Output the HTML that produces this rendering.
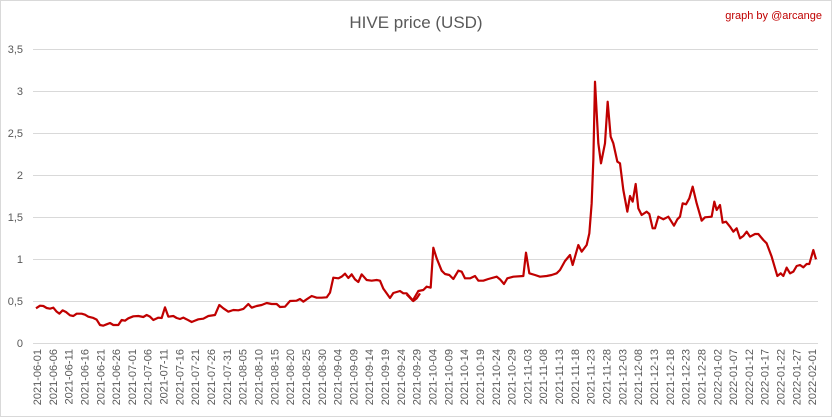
<!DOCTYPE html><html><head><style>body{margin:0;background:#fff}svg{display:block;font-family:"Liberation Sans",sans-serif}</style></head><body>
<svg width="832" height="417" viewBox="0 0 832 417" xmlns="http://www.w3.org/2000/svg">
<rect x="0.5" y="0.5" width="831" height="416" fill="#fff" stroke="#d9d9d9"/>
<text x="416" y="28" text-anchor="middle" font-size="17" fill="#595959">HIVE price (USD)</text>
<text x="822" y="19" text-anchor="end" font-size="11" fill="#c00000">graph by @arcange</text>
<g stroke="#d9d9d9" stroke-width="1">
<line x1="33" x2="818" y1="49.5" y2="49.5"/><line x1="33" x2="818" y1="91.5" y2="91.5"/><line x1="33" x2="818" y1="133.5" y2="133.5"/><line x1="33" x2="818" y1="175.5" y2="175.5"/><line x1="33" x2="818" y1="217.5" y2="217.5"/><line x1="33" x2="818" y1="259.5" y2="259.5"/><line x1="33" x2="818" y1="301.5" y2="301.5"/><line x1="33" x2="818" y1="343.5" y2="343.5"/>
</g>
<g font-size="11" fill="#595959" text-anchor="end">
<text x="23" y="53">3,5</text><text x="23" y="95">3</text><text x="23" y="137">2,5</text><text x="23" y="179">2</text><text x="23" y="221">1,5</text><text x="23" y="263">1</text><text x="23" y="305">0,5</text><text x="23" y="347">0</text>
</g>
<g fill="none" stroke="#c00000" stroke-width="2.2" stroke-linejoin="round">
<polyline vector-effect="non-scaling-stroke" transform="translate(0,230) scale(0.33333)" points="108,235 120,227 130,228 140,234 150,236 160,233 170,245 178,251 188,241 198,246 210,256 220,258 230,251 245,251 255,254 265,260 280,264 290,269 300,285 310,287 320,283 330,279 340,285 355,285 365,270 375,272 385,265 400,259 415,258 430,261 440,255 450,260 460,270 475,263 485,264 495,232 505,260 520,258 530,264 540,267 550,263 560,268 575,276 585,272 595,268 610,266 625,258 645,255 658,225 670,235 685,245 700,240 715,241 730,237 745,222 755,233 770,228 785,225 800,219 815,222 830,222 840,231 855,230 870,213 890,212 900,207 910,215 920,208 935,198 950,203 965,203 980,202 990,188 1000,143 1015,145 1025,140 1035,131 1045,144 1055,133 1065,148 1075,156 1085,133 1100,150 1115,152 1130,150 1140,152 1150,176 1170,204 1180,189 1200,183 1210,190 1220,190 1240,213 1250,205 1260,190"/>
<polyline vector-effect="non-scaling-stroke" transform="translate(400,60) scale(0.33333)" points="20,703 38,722 55,693 70,690 80,680 92,683 100,563 110,595 125,632 135,642 148,645 160,657 175,632 185,635 195,655 210,655 225,648 235,662 250,662 265,657 290,650 300,658 312,672 322,655 340,650 370,648 378,578 388,640 405,645 420,650 440,648 455,645 470,640 480,630 495,603 510,585 518,615 535,555 545,575 560,555 568,520 575,430 580,300 585,65 595,250 603,310 615,250 623,125 632,230 640,250 652,305 660,310 670,390 682,455 690,408 698,425 707,372 715,445 725,465 740,455 748,462 758,505 765,505 775,470 790,478 805,470 822,497 832,478 840,470 848,430 858,433 868,415 878,380 890,430 905,482 915,472 935,470 943,425 950,450 960,435 968,488 978,485 990,500 1000,515 1010,505 1020,535 1030,528 1040,515 1050,530 1065,522 1075,522 1090,540 1100,550 1115,590 1132,648 1142,640 1150,648 1160,623 1170,640 1180,635 1190,618 1200,615 1210,622 1220,612 1228,612 1240,570 1248,598"/>
</g>
<g font-size="11" fill="#595959" text-anchor="end">
<text transform="translate(41,349) rotate(-90)">2021-06-01</text>
<text transform="translate(56.8,349) rotate(-90)">2021-06-06</text>
<text transform="translate(72.6,349) rotate(-90)">2021-06-11</text>
<text transform="translate(88.5,349) rotate(-90)">2021-06-16</text>
<text transform="translate(104.3,349) rotate(-90)">2021-06-21</text>
<text transform="translate(120.1,349) rotate(-90)">2021-06-26</text>
<text transform="translate(135.9,349) rotate(-90)">2021-07-01</text>
<text transform="translate(151.7,349) rotate(-90)">2021-07-06</text>
<text transform="translate(167.6,349) rotate(-90)">2021-07-11</text>
<text transform="translate(183.4,349) rotate(-90)">2021-07-16</text>
<text transform="translate(199.2,349) rotate(-90)">2021-07-21</text>
<text transform="translate(215,349) rotate(-90)">2021-07-26</text>
<text transform="translate(230.8,349) rotate(-90)">2021-07-31</text>
<text transform="translate(246.7,349) rotate(-90)">2021-08-05</text>
<text transform="translate(262.5,349) rotate(-90)">2021-08-10</text>
<text transform="translate(278.3,349) rotate(-90)">2021-08-15</text>
<text transform="translate(294.1,349) rotate(-90)">2021-08-20</text>
<text transform="translate(309.9,349) rotate(-90)">2021-08-25</text>
<text transform="translate(325.8,349) rotate(-90)">2021-08-30</text>
<text transform="translate(341.6,349) rotate(-90)">2021-09-04</text>
<text transform="translate(357.4,349) rotate(-90)">2021-09-09</text>
<text transform="translate(373.2,349) rotate(-90)">2021-09-14</text>
<text transform="translate(389,349) rotate(-90)">2021-09-19</text>
<text transform="translate(404.9,349) rotate(-90)">2021-09-24</text>
<text transform="translate(420.7,349) rotate(-90)">2021-09-29</text>
<text transform="translate(436.5,349) rotate(-90)">2021-10-04</text>
<text transform="translate(452.3,349) rotate(-90)">2021-10-09</text>
<text transform="translate(468.1,349) rotate(-90)">2021-10-14</text>
<text transform="translate(484,349) rotate(-90)">2021-10-19</text>
<text transform="translate(499.8,349) rotate(-90)">2021-10-24</text>
<text transform="translate(515.6,349) rotate(-90)">2021-10-29</text>
<text transform="translate(531.4,349) rotate(-90)">2021-11-03</text>
<text transform="translate(547.2,349) rotate(-90)">2021-11-08</text>
<text transform="translate(563.1,349) rotate(-90)">2021-11-13</text>
<text transform="translate(578.9,349) rotate(-90)">2021-11-18</text>
<text transform="translate(594.7,349) rotate(-90)">2021-11-23</text>
<text transform="translate(610.5,349) rotate(-90)">2021-11-28</text>
<text transform="translate(626.3,349) rotate(-90)">2021-12-03</text>
<text transform="translate(642.2,349) rotate(-90)">2021-12-08</text>
<text transform="translate(658,349) rotate(-90)">2021-12-13</text>
<text transform="translate(673.8,349) rotate(-90)">2021-12-18</text>
<text transform="translate(689.6,349) rotate(-90)">2021-12-23</text>
<text transform="translate(705.4,349) rotate(-90)">2021-12-28</text>
<text transform="translate(721.3,349) rotate(-90)">2022-01-02</text>
<text transform="translate(737.1,349) rotate(-90)">2022-01-07</text>
<text transform="translate(752.9,349) rotate(-90)">2022-01-12</text>
<text transform="translate(768.7,349) rotate(-90)">2022-01-17</text>
<text transform="translate(784.5,349) rotate(-90)">2022-01-22</text>
<text transform="translate(800.4,349) rotate(-90)">2022-01-27</text>
<text transform="translate(816.2,349) rotate(-90)">2022-02-01</text>
</g>
</svg>
</body></html>
